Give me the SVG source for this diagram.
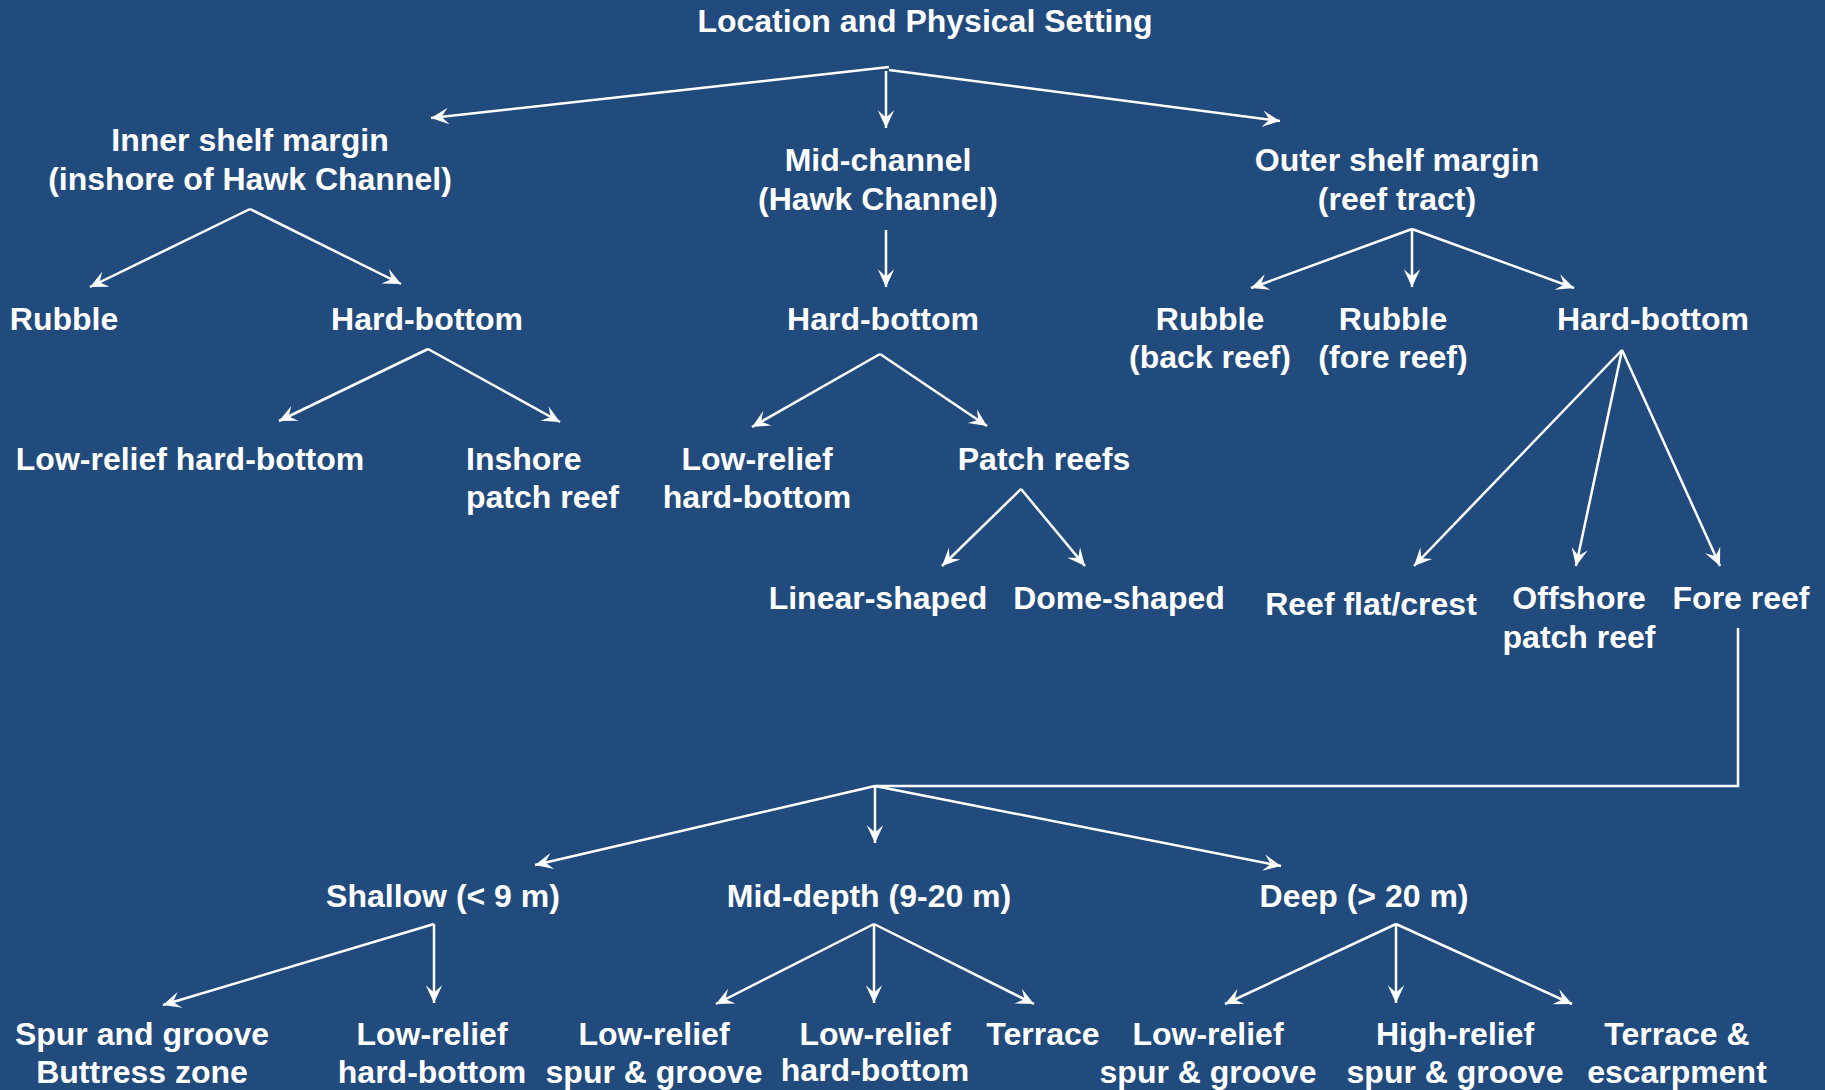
<svg xmlns="http://www.w3.org/2000/svg" width="1825" height="1090" viewBox="0 0 1825 1090">
<defs>
<style>
.t{font-family:"Liberation Sans",Arial,sans-serif;font-weight:bold;font-size:32px;fill:#ffffff;text-anchor:middle}
.l{text-anchor:start}
.c{fill:none;stroke:#ffffff;stroke-width:2.5;marker-end:url(#ah)}
.p{fill:none;stroke:#ffffff;stroke-width:2.5}
</style>
<marker id="ah" markerUnits="userSpaceOnUse" markerWidth="20" markerHeight="20" viewBox="-16 -8 17 16" refX="0" refY="0" orient="auto">
<path d="M0,0 L-15,-7 L-9,0 L-15,7 Z" fill="#ffffff"/>
</marker>
</defs>
<rect x="0" y="0" width="1825" height="1090" fill="#224b7d"/>

<g id="connectors">
<path class="c" d="M889,67 L431,118"/>
<path class="c" d="M886,71 L886,128"/>
<path class="c" d="M889,70 L1280,121"/>

<path class="c" d="M250,209 L90,287"/>
<path class="c" d="M250,209 L401,284"/>

<path class="c" d="M886,230 L886,287"/>

<path class="c" d="M1412,229 L1251,288"/>
<path class="c" d="M1412,229 L1412,287"/>
<path class="c" d="M1412,229 L1574,288"/>

<path class="c" d="M428,349 L279,421"/>
<path class="c" d="M428,349 L560,422"/>

<path class="c" d="M880,354 L752,427"/>
<path class="c" d="M880,354 L987,426"/>

<path class="c" d="M1622,350 L1414,566"/>
<path class="c" d="M1622,350 L1576,566"/>
<path class="c" d="M1622,350 L1720,566"/>

<path class="c" d="M1021,489 L942,566"/>
<path class="c" d="M1021,489 L1085,566"/>

<path class="p" d="M1738,628 L1738,786 L875,786"/>
<path class="c" d="M875,786 L535,865"/>
<path class="c" d="M875,786 L875,843"/>
<path class="c" d="M875,786 L1281,866"/>

<path class="c" d="M434,924 L163,1005"/>
<path class="c" d="M434,924 L434,1003"/>

<path class="c" d="M874,924 L716,1004"/>
<path class="c" d="M874,924 L874,1003"/>
<path class="c" d="M874,924 L1034,1004"/>

<path class="c" d="M1396,924 L1225,1004"/>
<path class="c" d="M1396,924 L1396,1003"/>
<path class="c" d="M1396,924 L1572,1004"/>
</g>

<g id="root"><text class="t" x="925" y="32">Location and Physical Setting</text></g>

<g id="inner-shelf"><text class="t" x="250" y="151">Inner shelf margin</text><text class="t" x="250" y="190">(inshore of Hawk Channel)</text></g>
<g id="mid-channel"><text class="t" x="878" y="171">Mid-channel</text><text class="t" x="878" y="210">(Hawk Channel)</text></g>
<g id="outer-shelf"><text class="t" x="1397" y="171">Outer shelf margin</text><text class="t" x="1397" y="210">(reef tract)</text></g>

<g id="rubble-inner"><text class="t" x="64" y="330">Rubble</text></g>
<g id="hb-inner"><text class="t" x="427" y="330">Hard-bottom</text></g>
<g id="hb-mid"><text class="t" x="883" y="330">Hard-bottom</text></g>
<g id="rubble-back"><text class="t" x="1210" y="330">Rubble</text><text class="t" x="1210" y="368">(back reef)</text></g>
<g id="rubble-fore"><text class="t" x="1393" y="330">Rubble</text><text class="t" x="1393" y="368">(fore reef)</text></g>
<g id="hb-outer"><text class="t" x="1653" y="330">Hard-bottom</text></g>

<g id="lr-hb-inner"><text class="t" x="190" y="470">Low-relief hard-bottom</text></g>
<g id="inshore-patch"><text class="t l" x="466" y="470">Inshore</text><text class="t l" x="466" y="508">patch reef</text></g>
<g id="lr-hb-mid"><text class="t" x="757" y="470">Low-relief</text><text class="t" x="757" y="508">hard-bottom</text></g>
<g id="patch-reefs"><text class="t" x="1044" y="470">Patch reefs</text></g>

<g id="linear"><text class="t" x="878" y="609">Linear-shaped</text></g>
<g id="dome"><text class="t" x="1119" y="609">Dome-shaped</text></g>
<g id="reef-flat"><text class="t" x="1371" y="615">Reef flat/crest</text></g>
<g id="offshore-patch"><text class="t" x="1579" y="609">Offshore</text><text class="t" x="1579" y="648">patch reef</text></g>
<g id="fore-reef"><text class="t" x="1741" y="609">Fore reef</text></g>

<g id="shallow"><text class="t" x="443" y="907">Shallow (&lt; 9 m)</text></g>
<g id="mid-depth"><text class="t" x="869" y="907">Mid-depth (9-20 m)</text></g>
<g id="deep"><text class="t" x="1364" y="907">Deep (&gt; 20 m)</text></g>

<g id="spur-groove"><text class="t" x="142" y="1045">Spur and groove</text><text class="t" x="142" y="1083">Buttress zone</text></g>
<g id="lr-hb-shallow"><text class="t" x="432" y="1045">Low-relief</text><text class="t" x="432" y="1083">hard-bottom</text></g>
<g id="lr-sg-mid"><text class="t" x="654" y="1045">Low-relief</text><text class="t" x="654" y="1083">spur &amp; groove</text></g>
<g id="lr-hb-mid-depth"><text class="t" x="875" y="1045">Low-relief</text><text class="t" x="875" y="1081">hard-bottom</text></g>
<g id="terrace"><text class="t" x="1043" y="1045">Terrace</text></g>
<g id="lr-sg-deep"><text class="t" x="1208" y="1045">Low-relief</text><text class="t" x="1208" y="1083">spur &amp; groove</text></g>
<g id="hr-sg-deep"><text class="t" x="1455" y="1045">High-relief</text><text class="t" x="1455" y="1083">spur &amp; groove</text></g>
<g id="terrace-escarp"><text class="t" x="1677" y="1045">Terrace &amp;</text><text class="t" x="1677" y="1083">escarpment</text></g>
</svg>
